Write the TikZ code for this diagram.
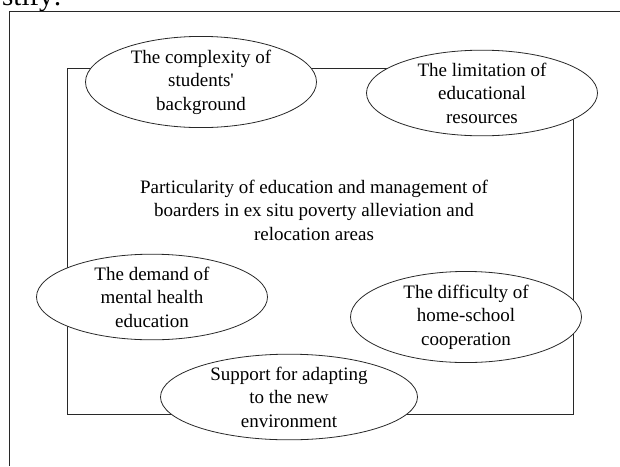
\documentclass[tikz,border=0pt]{standalone}
\usepackage{fontspec}
\setmainfont{Liberation Serif}
\usetikzlibrary{shapes.geometric,positioning}
\definecolor{linecolor}{RGB}{40,40,40}
\tikzstyle{frame line}=[draw=linecolor,line width=0.8pt]
\tikzstyle{factor}=[ellipse,draw=linecolor,fill=white,minimum width=231pt,minimum height=80pt,inner sep=0pt,align=center,line width=0.8pt,font=\fontsize{19}{23.5}\selectfont]
\tikzstyle{centre text}=[align=center,font=\fontsize{19}{23.5}\selectfont]

\begin{document}
\begin{tikzpicture}[x=1pt,y=-1pt]
\def\framel{67}
\def\framer{573}
\def\framet{68}
\def\frameb{414}
    \useasboundingbox (0,0) rectangle (620,466);
    \clip (0,0) rectangle (620,466);

    % cut page text and outer box
    \node[anchor=base east,inner sep=0pt,font=\fontsize{29}{30}\selectfont] (head) at (62,5) {stify:};
    \draw[frame line] (9,466) -- (9,11) -- (620,11);

    % inner frame
    \draw[frame line] (\framel,\framet) rectangle (\framer,\frameb);

    \node[centre text] (main) at (314,210) {Particularity of education and management of\\boarders in ex situ poverty alleviation and\\relocation areas};

    \node[factor] (complexity) at (201,82) {The complexity of\\students\textquotesingle\\background};
    \node[factor] (limitation) at (482,93) {The limitation of\\educational\\resources};
    \node[factor] (demand) at (152,297) {The demand of\\mental health\\education};
    \node[factor] (difficulty) at (466,317) {The difficulty of\\home-school\\cooperation};
    \node[factor,minimum width=257pt] (support) at (289,397) {Support for adapting\\to the new\\environment};

\end{tikzpicture}
\end{document}
